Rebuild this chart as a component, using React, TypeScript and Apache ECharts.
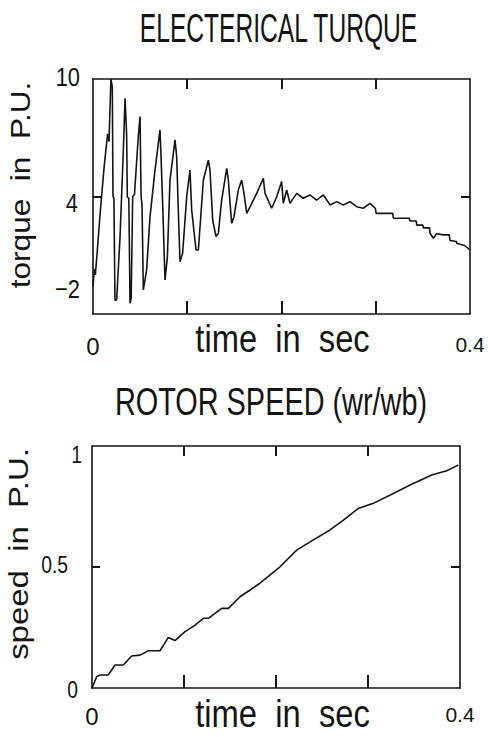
import React, { useEffect, useRef } from "react";
import * as echarts from "echarts";

// ---------- data ----------
const torqueTime = [
  0.0, 0.0015, 0.0025, 0.0045, 0.008, 0.012, 0.0155, 0.017, 0.019, 0.0205, 0.0212, 0.0222, 0.0233,
  0.0251, 0.0287, 0.0322, 0.034, 0.0357, 0.0364, 0.038, 0.0393,
  0.0405, 0.0421, 0.044, 0.0481, 0.0499, 0.051, 0.052, 0.0534,
  0.0569, 0.0605, 0.0658, 0.0711, 0.0722, 0.0739, 0.0764,
  0.0789, 0.0817, 0.087, 0.0888, 0.0905, 0.0923,
  0.0951, 0.0994, 0.1029, 0.1047, 0.1093,
  0.1118, 0.1171, 0.1224, 0.1241, 0.127, 0.1305,
  0.133, 0.1365, 0.1419, 0.1436, 0.1454, 0.1472,
  0.1496, 0.1542, 0.1577, 0.1602, 0.1631,
  0.1684, 0.1737, 0.1807, 0.1825, 0.1896,
  0.1949, 0.2002, 0.2019, 0.2055, 0.209, 0.2161, 0.2231, 0.2302, 0.2373, 0.2444, 0.2515,
  0.2585, 0.2656, 0.2727, 0.2798, 0.2868, 0.2939, 0.2995, 0.3005, 0.318, 0.3187, 0.3355,
  0.3363, 0.343, 0.3434, 0.35, 0.3505, 0.357, 0.3576, 0.3611, 0.3646, 0.3717, 0.378,
  0.3788, 0.3855, 0.3859, 0.394, 0.4,
];
const torqueValue = [
  -0.6, 0.3, 0.0, 1.2, 3.4, 5.6, 7.2, 6.8, 10.0, 9.6, 4.0, 3.9, -1.3,
  -1.28, 1.95, 6.37, 9.01, 7.14, 3.99, 3.9, -1.45,
  -1.2, 4.0, 4.1, 7.1, 8.08, 4.0, 3.6, -0.77,
  0.25, 2.97, 5.35, 7.4, 6.03, 3.65, -0.26,
  0.9, 4.84, 6.89, 6.03, 3.31, 0.67,
  1.1, 3.99, 5.35, 3.31, 1.27,
  1.27, 4.84, 5.86, 5.35, 2.8, 1.95,
  2.12, 3.82, 5.44, 4.84, 3.65, 2.63,
  2.97, 4.33, 4.84, 4.16, 3.14,
  3.65, 4.16, 4.93, 4.16, 3.4,
  3.99, 4.76, 3.65, 4.33, 3.65, 4.16, 3.91, 4.08, 3.82, 4.08, 3.57,
  3.74, 3.57, 3.74, 3.48, 3.4, 3.65, 3.4, 3.14, 3.14, 2.89, 2.89,
  2.75, 2.75, 2.54, 2.54, 2.4, 2.4, 2.12, 1.87, 2.1, 2.04, 2.04,
  1.75, 1.7, 1.61, 1.5, 1.27,
];

const speedTime = [
  0, 0.0051, 0.0087, 0.0177, 0.025, 0.034, 0.0431, 0.0522, 0.0612, 0.0739, 0.083, 0.0902,
  0.1011, 0.112, 0.121, 0.1265, 0.141, 0.1482, 0.1609, 0.1826, 0.2043, 0.2225, 0.2406,
  0.2587, 0.2732, 0.2895, 0.3058, 0.3275, 0.3457, 0.3692, 0.3855, 0.3982,
];
const speedValue = [
  0, 0.047, 0.054, 0.054, 0.095, 0.095, 0.132, 0.136, 0.154, 0.154, 0.209, 0.196,
  0.233, 0.26, 0.288, 0.288, 0.329, 0.329, 0.377, 0.433, 0.501, 0.57, 0.612,
  0.653, 0.694, 0.742, 0.763, 0.804, 0.839, 0.88, 0.898, 0.921,
];

const xTickLabels = ["0", "0.4"];
const xInnerTicks = [0.1, 0.2, 0.3];
const torqueTicks = [10, 4, -2];
const torqueInnerTicks = [4];
const speedTicks = [1, 0.5, 0];
const speedInnerTicks = [0.5];
const torqueTickLabels = ["10", "4", "\u22122"];
const speedTickLabels = ["1", "0.5", "0"];

const titleTop = "ELECTERICAL TURQUE";
const titleBottom = "ROTOR SPEED (wr/wb)";
const xName = "time  in  sec";
const torqueName = "torque  in  P.U.";
const speedName = "speed  in  P.U.";

// ---------- layout / styles ----------
const INK = "#141414";
const FONT = '"Liberation Sans", Arial, sans-serif';
const torqueLabelOffsets = [
  [-13, -2],
  [-15, 6],
  [-13, -25],
];
const speedLabelOffsets = [
  [-10, 9],
  [-24, -2],
  [-14, 2],
];
const TICK = { bottom: 13, top: 10, left: 8, right: 9 };
const frameLine = { show: true, onZero: false, lineStyle: { color: INK, width: 1.6 } };

function zip(a: number[], b: number[]) {
  return a.map((v, i) => [v, b[i]]);
}

function xAxes(gridIndex: number, margin: number) {
  const common = {
    gridIndex,
    type: "value" as const,
    min: 0,
    max: 0.4,
    interval: 0.1,
    axisLine: frameLine,
    axisTick: { show: false },
    splitLine: { show: false },
  };
  return [
    {
      ...common,
      position: "bottom",
      axisLabel: {
        margin,
        color: INK,
        fontFamily: FONT,
        formatter: (v: number) =>
          v === 0 ? `{a|${xTickLabels[0]}}` : Math.abs(v - 0.4) < 1e-9 ? `{b|${xTickLabels[1]}}` : "",
        rich: {
          a: { fontSize: 24, fontFamily: FONT, color: INK },
          b: { fontSize: 21, fontFamily: FONT, color: INK },
        },
      },
    },
    { ...common, position: "top", axisLabel: { show: false } },
  ];
}

function yAxes(gridIndex: number, min: number, max: number, interval: number) {
  const common = {
    gridIndex,
    type: "value" as const,
    min,
    max,
    interval,
    axisLine: frameLine,
    axisTick: { show: false },
    splitLine: { show: false },
    axisLabel: { show: false },
  };
  return [
    { ...common, position: "left" },
    { ...common, position: "right" },
  ];
}

function text(
  s: string,
  x: number,
  y: number,
  size: number,
  opts: { scaleX?: number; rotation?: number; align?: string } = {}
) {
  const align = opts.align || "center";
  return {
    type: "text",
    x,
    y,
    scaleX: opts.scaleX ?? 1,
    rotation: opts.rotation ?? 0,
    silent: true,
    z: 10,
    style: {
      text: s,
      x: 0,
      y: 0,
      fontSize: size,
      fontFamily: FONT,
      fill: INK,
      align,
      verticalAlign: "middle",
      textAlign: align,
      textVerticalAlign: "middle",
    },
  };
}

function seg(x: number, y: number, w: number, h: number) {
  return {
    type: "rect",
    silent: true,
    z: 10,
    shape: { x, y, width: w, height: h },
    style: { fill: INK, stroke: null },
  };
}

export default function App() {
  const ref = useRef<HTMLDivElement>(null);

  useEffect(() => {
    if (!ref.current) return;
    const chart = echarts.init(ref.current, null, { renderer: "svg" });
    const lineStyle = { color: INK, width: 1.6 };
    chart.setOption({
      animation: false,
      backgroundColor: "#ffffff",
      grid: [
        { left: 93, top: 79, width: 377, height: 235 },
        { left: 92, top: 446, width: 368, height: 242 },
      ],
      xAxis: [...xAxes(0, 20), ...xAxes(1, 16)],
      yAxis: [...yAxes(0, -2, 10, 6), ...yAxes(1, 0, 1, 0.5)],
      series: [
        {
          type: "line",
          xAxisIndex: 0,
          yAxisIndex: 0,
          data: zip(torqueTime, torqueValue),
          showSymbol: false,
          lineStyle,
          silent: true,
        },
        {
          type: "line",
          xAxisIndex: 2,
          yAxisIndex: 2,
          data: zip(speedTime, speedValue),
          showSymbol: false,
          lineStyle,
          silent: true,
        },
      ],
    });

    const graphics: any[] = [
      text(titleTop, 278.5, 28, 40, { scaleX: 0.615 }),
      text(titleBottom, 271, 401.5, 38, { scaleX: 0.76 }),
      text(xName, 282.5, 339.5, 38, { scaleX: 0.86 }),
      text(xName, 282.5, 713, 39, { scaleX: 0.84 }),
      text(torqueName, 20, 185, 27, { scaleX: 1.17, rotation: Math.PI / 2 }),
      text(speedName, 19, 554, 27, { scaleX: 1.22, rotation: Math.PI / 2 }),
    ];

    const panels = [
      { xi: 0, yi: 0, yMin: -2, yMax: 10, yInner: torqueInnerTicks, ticks: torqueTicks, labels: torqueTickLabels, offs: torqueLabelOffsets, size: 26 },
      { xi: 2, yi: 2, yMin: 0, yMax: 1, yInner: speedInnerTicks, ticks: speedTicks, labels: speedTickLabels, offs: speedLabelOffsets, size: 23 },
    ];
    panels.forEach((p) => {
      const px = (v: number) => Math.round(chart.convertToPixel({ xAxisIndex: p.xi }, v) as number);
      const py = (v: number) => Math.round(chart.convertToPixel({ yAxisIndex: p.yi }, v) as number);
      const left = px(0);
      const right = px(0.4);
      const bottom = py(p.yMin);
      const top = py(p.yMax);
      xInnerTicks.forEach((v) => {
        const x = px(v);
        graphics.push(seg(x - 1, bottom - TICK.bottom, 2, TICK.bottom));
        graphics.push(seg(x - 1, top, 2, TICK.top));
      });
      p.yInner.forEach((v) => {
        const y = py(v);
        graphics.push(seg(left, y - 1, TICK.left, 2));
        graphics.push(seg(right - TICK.right, y - 1, TICK.right, 2));
      });
      p.ticks.forEach((v, i) => {
        const [dx, dy] = p.offs[i];
        graphics.push(text(p.labels[i], left + dx, py(v) + dy, p.size, { scaleX: 0.84, align: "right" }));
      });
    });

    chart.setOption({ graphic: graphics });

    return () => chart.dispose();
  }, []);

  return (
    <div
      ref={ref}
      style={{ position: "absolute", left: 0, top: 0, width: 488, height: 737, background: "#fff" }}
    />
  );
}
